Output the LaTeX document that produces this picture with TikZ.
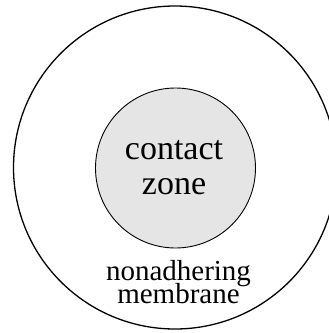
\documentclass[tikz,border=0pt]{standalone}
\usepackage{fontspec}
\setmainfont{Liberation Serif}
\newcommand\mytightlines{\lineskiplimit=-100pt\relax}
\begin{document}
\begin{tikzpicture}[x=1pt,y=-1pt,
  outercircle/.style={circle,draw=black,line width=1.3pt,minimum size=323pt,inner sep=0pt},
  zonecircle/.style={circle,draw=black,fill=black!10,line width=0.9pt,minimum size=160pt,inner sep=0pt},
  bigtext/.style={font=\fontsize{34}{35}\selectfont\mytightlines,align=center,inner sep=0pt,anchor=base},
  smalltext/.style={font=\fontsize{29}{23}\selectfont\mytightlines,align=center,inner sep=0pt,anchor=base}]
\useasboundingbox (0,0) rectangle (329,333);
\clip (0,0) rectangle (329,333);
\node[outercircle] (outer) at (175,167.5) {};
\node[zonecircle] (zone) at (175.5,168) {};
\node[bigtext] (zlabel) at (174,194) {contact\\zone};
\node[smalltext] (mlabel) at (178.5,303) {nonadhering\\membrane};
\end{tikzpicture}
\end{document}
